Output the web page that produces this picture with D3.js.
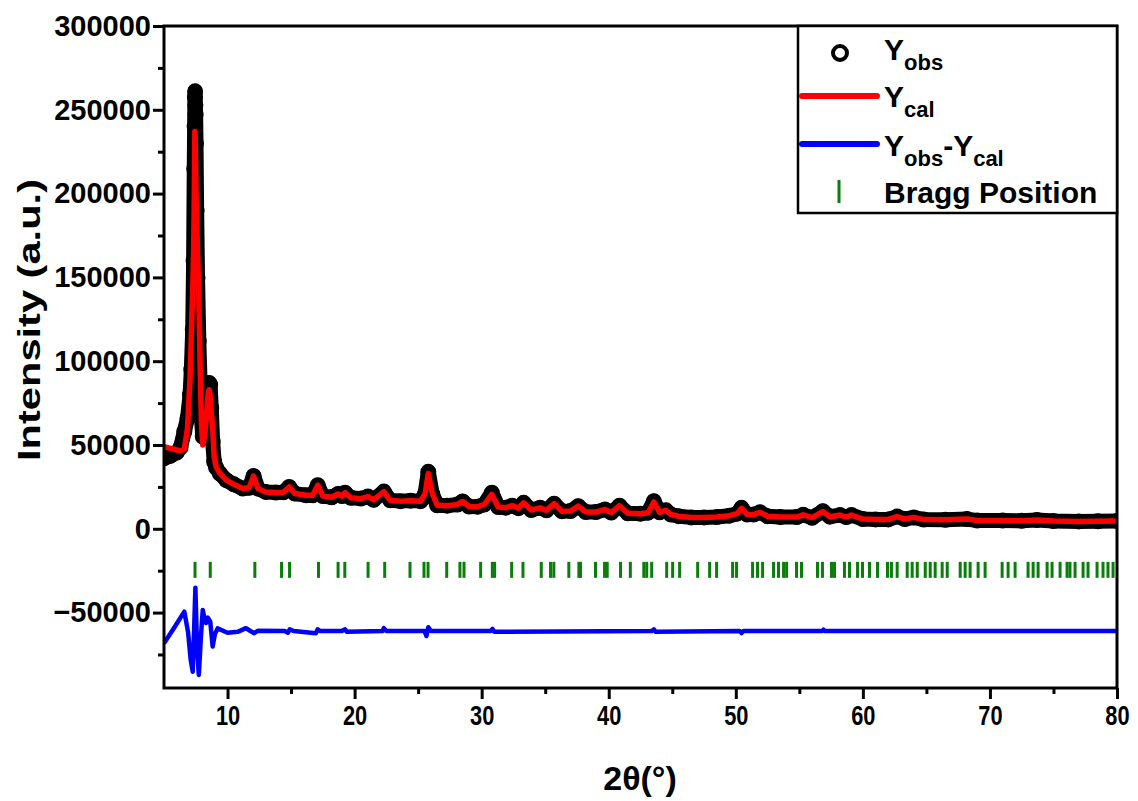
<!DOCTYPE html>
<html>
<head>
<meta charset="utf-8">
<script src="https://cdn.jsdelivr.net/npm/d3@7"></script>
<style>
  body { margin: 0; background: #fff; }
  svg { display: block; }
</style>
</head>
<body>
<div id="chart"></div>
<script>
// --- data ---
const twoTheta = [5.0, 5.5, 6.0, 6.3, 6.6, 6.85, 7.05, 7.15, 7.26, 7.33, 7.38, 7.41, 7.43, 7.45, 7.47, 7.49, 7.52, 7.57, 7.64, 7.74,
  7.85, 7.95, 8.05, 8.2, 8.35, 8.48, 8.55, 8.63, 8.72, 8.83, 8.95, 9.1, 9.4, 9.9, 10.5, 11.2, 11.7, 12.05, 12.4, 13.0,
  13.8, 14.4, 14.85, 15.3, 16.2, 16.7, 17.1, 17.5, 18.2, 18.7, 19.0, 19.25, 19.7, 20.5, 21.05, 21.5, 22.3, 22.8, 23.6, 24.4,
  25.2, 25.55, 25.8, 26.1, 26.5, 27.3, 28.1, 28.5, 29.0, 29.7, 30.2, 30.8, 31.3, 31.9, 32.4, 32.9, 33.3, 33.9, 34.6, 35.1,
  35.7, 36.3, 37.0, 37.6, 38.2, 39.0, 39.7, 40.2, 40.85, 41.5, 42.5, 43.1, 43.55, 44.0, 44.5, 44.9, 45.5, 46.5, 47.5, 48.5,
  49.5, 50.1, 50.45, 50.9, 51.4, 51.9, 52.5, 53.5, 54.8, 55.3, 56.0, 56.85, 57.4, 58.2, 58.7, 59.1, 60.0, 61.0, 62.0, 62.7,
  63.3, 64.0, 64.8, 66.5, 68.2, 69.0, 71.0, 72.5, 73.7, 75.0, 77.0, 78.5, 80.0];

const yObs = [42000, 43500, 45500, 48500, 58000, 66000, 80000, 95000, 119000, 160000, 215000, 240000, 257500, 261000, 252800, 247400, 230000, 190000, 150000, 112000,
  85000, 66000, 55000, 62000, 72000, 84000, 87000, 86000, 72000, 52000, 40000, 36500, 33000, 29000, 26500, 24000, 24500, 31500, 24000, 22000,
  21600, 21800, 25000, 21000, 20000, 20000, 26000, 19500, 18800, 20800, 19500, 21500, 18500, 18000, 19200, 17300, 22200, 17000, 16500, 16800,
  16500, 21000, 34000, 21000, 14000, 13800, 14500, 16300, 13300, 13200, 14500, 21500, 13000, 12600, 13800, 12300, 15500, 11200, 12500, 11000,
  15000, 10500, 10600, 13500, 10000, 10000, 11500, 9700, 13800, 9200, 9000, 9600, 16500, 9800, 11000, 8500, 7500, 6800, 6800, 7000,
  7800, 9000, 12500, 8500, 8500, 9800, 7500, 7000, 7000, 8300, 6600, 10500, 7200, 8200, 7000, 8200, 5800, 5600, 5600, 7300,
  5800, 6800, 5500, 5400, 5800, 4900, 4900, 4800, 5300, 4600, 4400, 4500, 4700];

const yCal = [49000, 48000, 47000, 46500, 47500, 60000, 90000, 115000, 143000, 165000, 195000, 225000, 237000, 234000, 226000, 215000, 200000, 185000, 165000, 138000,
  95000, 62000, 50000, 55000, 68000, 81000, 83000, 80000, 70000, 60000, 43000, 37000, 33000, 29000, 26500, 24000, 24500, 31500, 24000, 22000,
  21600, 21800, 25000, 21000, 20000, 20000, 26000, 19500, 18800, 20800, 19500, 21500, 18500, 18000, 19200, 17300, 22200, 17000, 16500, 16800,
  16500, 21000, 33000, 21500, 14000, 13800, 14500, 16300, 13300, 13200, 14500, 20500, 13000, 12600, 13800, 12300, 15500, 11200, 12500, 11000,
  15000, 10500, 10600, 13500, 10000, 10000, 11500, 9700, 13800, 9200, 9000, 9600, 16000, 9800, 11000, 8500, 7500, 6800, 6800, 7000,
  7800, 9000, 12200, 8500, 8500, 9800, 7500, 7000, 7000, 8300, 6600, 10300, 7200, 8200, 7000, 8200, 5800, 5600, 5600, 7300,
  5800, 6800, 5500, 5400, 5800, 4900, 4900, 4800, 5300, 4600, 4400, 4500, 4700];

// difference curve (already offset below the pattern)
const diffTheta = [5.0, 5.8, 6.6, 6.9, 7.1, 7.26, 7.35, 7.47, 7.6, 7.74, 7.9, 8.05, 8.2, 8.31, 8.45, 8.64, 8.83, 9.0, 9.22, 10.0,
  10.8, 11.45, 11.8, 12.1, 12.4, 14.5, 14.75, 14.9, 15.2, 16.95, 17.1, 17.3, 19.0, 19.25, 19.4, 22.2, 22.3, 22.5, 25.5, 25.65,
  25.8, 26.0, 30.7, 30.85, 31.0, 43.4, 43.55, 43.7, 50.3, 50.45, 50.6, 56.8, 56.9, 57.0, 80.0];
const yDiff = [-68300, -59000, -49400, -62000, -78000, -85300, -65000, -35200, -70000, -87200, -65000, -48400, -54000, -56200, -53000, -55400, -70300, -63000, -59400, -62000,
  -61500, -59300, -61000, -62300, -60800, -61000, -62000, -60000, -61000, -62300, -60000, -61000, -61000, -60000, -61500, -61000, -59300, -61000, -61000, -64000,
  -58700, -61000, -61000, -59800, -61500, -61000, -60000, -61500, -61000, -62200, -61000, -61000, -60200, -61000, -61000];

const braggPos = [7.44, 8.64, 12.15, 14.25, 14.88, 17.16, 18.70, 19.23, 21.06, 22.37, 24.36, 25.46, 25.78, 27.25, 28.29, 28.61,
  29.92, 30.84, 31.02, 32.36, 33.25, 34.69, 35.42, 35.68, 36.86, 37.65, 37.78, 38.96, 39.67, 39.88, 40.93, 41.70,
  42.76, 42.99, 43.38, 44.56, 45.03, 45.58, 47.00, 47.94, 48.49, 49.75, 50.06, 51.32, 51.71, 52.11, 52.97, 53.36,
  53.76, 54.00, 54.78, 55.17, 56.43, 56.82, 57.53, 57.77, 58.55, 58.95, 59.58, 59.97, 60.52, 61.15, 61.94, 62.25,
  62.70, 63.49, 63.88, 64.28, 64.91, 65.30, 65.69, 66.24, 66.64, 67.66, 68.05, 68.44, 69.07, 69.62, 70.96, 71.43,
  71.98, 73.00, 73.40, 73.79, 74.50, 74.89, 75.52, 76.07, 76.30, 76.70, 77.33, 77.72, 78.43, 78.90, 79.29, 79.69];
const braggLevel = -24500;

const xTicks = [10, 20, 30, 40, 50, 60, 70, 80];
const xMinor = [15, 25, 35, 45, 55, 65, 75];
const yTicks = [-50000, 0, 50000, 100000, 150000, 200000, 250000, 300000];
const yMinor = [-75000, -25000, 25000, 75000, 125000, 175000, 225000, 275000];

const W = 1138, H = 801;
const plot = { left: 164, right: 1117, top: 26, bottom: 688 };
const FONT = '"Liberation Sans", Arial, sans-serif';

const svg = d3.select('#chart').append('svg')
  .attr('width', W)
  .attr('height', H)
  .style('font-family', FONT);

const x = d3.scaleLinear().domain([5, 80]).range([plot.left, plot.right]);
const y = d3.scaleLinear().domain([-95000, 300000]).range([plot.bottom, plot.top]);

svg.append('clipPath').attr('id', 'plotClip')
  .append('rect')
  .attr('x', plot.left).attr('y', plot.top)
  .attr('width', plot.right - plot.left).attr('height', plot.bottom - plot.top);

const g = svg.append('g').attr('clip-path', 'url(#plotClip)');

const obs = twoTheta.map((t, i) => ({ t, v: yObs[i] }));
const cal = twoTheta.map((t, i) => ({ t, v: yCal[i] }));
const diff = diffTheta.map((t, i) => ({ t, v: yDiff[i] }));

const line = d3.line().x(d => x(d.t)).y(d => y(d.v));

// Yobs: overlapping open circles make a thick black band
g.append('path')
  .datum(obs)
  .attr('d', line)
  .attr('fill', 'none')
  .attr('stroke', '#000')
  .attr('stroke-width', 15)
  .attr('stroke-linejoin', 'round')
  .attr('stroke-linecap', 'round');

g.append('g')
  .selectAll('circle')
  .data(obs)
  .join('circle')
  .attr('cx', d => x(d.t))
  .attr('cy', d => y(d.v))
  .attr('r', 6.5)
  .attr('fill', 'none')
  .attr('stroke', '#000')
  .attr('stroke-width', 3);

// Ycal
g.append('path')
  .datum(cal)
  .attr('d', line)
  .attr('fill', 'none')
  .attr('stroke', '#ff0000')
  .attr('stroke-width', 5.5)
  .attr('stroke-linejoin', 'round');

// difference
g.append('path')
  .datum(diff)
  .attr('d', line)
  .attr('fill', 'none')
  .attr('stroke', '#0000ff')
  .attr('stroke-width', 4.5)
  .attr('stroke-linejoin', 'round');

// Bragg positions
g.append('g')
  .selectAll('line')
  .data(braggPos)
  .join('line')
  .attr('x1', d => x(d)).attr('x2', d => x(d))
  .attr('y1', y(braggLevel) - 8).attr('y2', y(braggLevel) + 8)
  .attr('stroke', '#0a7d0a')
  .attr('stroke-width', 3);

// --- axes ---
function styleAxis(sel) {
  sel.select('.domain').remove();
  sel.selectAll('.tick line').attr('stroke', '#000').attr('stroke-width', 3);
}

svg.append('g')
  .attr('transform', `translate(0,${plot.bottom})`)
  .call(d3.axisBottom(x).tickValues(xMinor).tickSize(6).tickFormat(''))
  .call(styleAxis);

const xAxis = svg.append('g')
  .attr('transform', `translate(0,${plot.bottom})`)
  .call(d3.axisBottom(x).tickValues(xTicks).tickSize(11).tickPadding(6).tickFormat(d3.format('d')))
  .call(styleAxis);
xAxis.selectAll('text')
  .attr('fill', '#000')
  .style('font-size', '28px')
  .style('font-weight', 'bold')
  .style('font-family', FONT)
  .attr('transform', 'scale(0.78,1)');

svg.append('g')
  .attr('transform', `translate(${plot.left},0)`)
  .call(d3.axisLeft(y).tickValues(yMinor).tickSize(6).tickFormat(''))
  .call(styleAxis);

const yAxis = svg.append('g')
  .attr('transform', `translate(${plot.left},0)`)
  .call(d3.axisLeft(y).tickValues(yTicks).tickSize(11).tickPadding(2).tickFormat(d3.format('d')))
  .call(styleAxis);
yAxis.selectAll('text')
  .attr('fill', '#000')
  .style('font-size', '29px')
  .style('font-weight', 'bold')
  .style('font-family', FONT);

// frame
svg.append('rect')
  .attr('x', plot.left).attr('y', plot.top)
  .attr('width', plot.right - plot.left).attr('height', plot.bottom - plot.top)
  .attr('fill', 'none')
  .attr('stroke', '#000')
  .attr('stroke-width', 3);

// axis titles
svg.append('text')
  .attr('x', 640).attr('y', 790)
  .attr('text-anchor', 'middle')
  .style('font-size', '34px')
  .style('font-weight', 'bold')
  .text('2θ(°)');

svg.append('text')
  .attr('transform', 'translate(40,320) rotate(-90)')
  .attr('text-anchor', 'middle')
  .style('font-size', '32px')
  .style('font-weight', 'bold')
  .attr('textLength', 282)
  .attr('lengthAdjust', 'spacingAndGlyphs')
  .text('Intensity (a.u.)');

// --- legend ---
const legend = svg.append('g');
legend.append('rect')
  .attr('x', 798).attr('y', plot.top)
  .attr('width', plot.right - 798).attr('height', 213 - plot.top)
  .attr('fill', '#fff')
  .attr('stroke', '#000')
  .attr('stroke-width', 2.5);

legend.append('circle')
  .attr('cx', 840).attr('cy', 53).attr('r', 7)
  .attr('fill', 'none').attr('stroke', '#000').attr('stroke-width', 4);
legend.append('line')
  .attr('x1', 802).attr('x2', 877).attr('y1', 96).attr('y2', 96)
  .attr('stroke', '#ff0000').attr('stroke-width', 6).attr('stroke-linecap', 'round');
legend.append('line')
  .attr('x1', 802).attr('x2', 877).attr('y1', 144).attr('y2', 144)
  .attr('stroke', '#0000ff').attr('stroke-width', 6).attr('stroke-linecap', 'round');
legend.append('line')
  .attr('x1', 839).attr('x2', 839).attr('y1', 180).attr('y2', 203)
  .attr('stroke', '#0a7d0a').attr('stroke-width', 3);

function legendLabel(yBase, parts) {
  const t = legend.append('text')
    .attr('x', 884).attr('y', yBase)
    .style('font-size', '30px')
    .style('font-weight', 'bold');
  let shifted = false;
  parts.forEach(p => {
    const span = t.append('tspan').text(p.s);
    if (p.sub && !shifted) { span.attr('dy', 10).style('font-size', '22px'); shifted = true; }
    else if (p.sub) { span.style('font-size', '22px'); }
    else if (shifted) { span.attr('dy', -10); shifted = false; }
  });
}
legendLabel(60, [{ s: 'Y' }, { s: 'obs', sub: true }]);
legendLabel(107, [{ s: 'Y' }, { s: 'cal', sub: true }]);
legendLabel(156, [{ s: 'Y' }, { s: 'obs', sub: true }, { s: '-Y' }, { s: 'cal', sub: true }]);
legendLabel(203, [{ s: 'Bragg Position' }]);
</script>
</body>
</html>
